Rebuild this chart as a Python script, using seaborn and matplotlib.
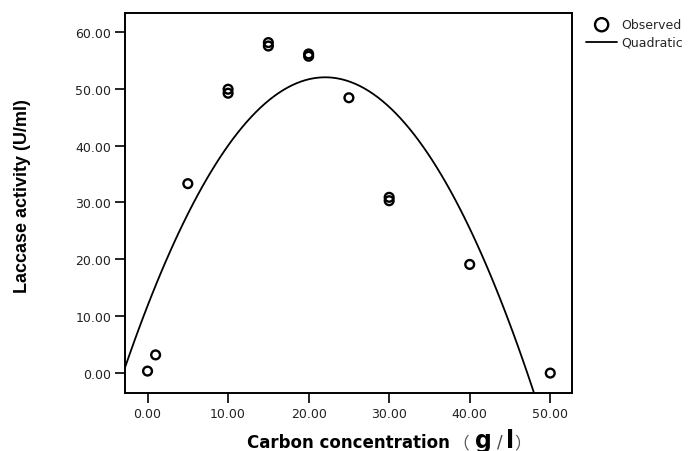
import numpy as np
import pandas as pd
import matplotlib
matplotlib.use("Agg")
import matplotlib.pyplot as plt
import seaborn as sns
from matplotlib.ticker import FormatStrFormatter, FixedLocator

# ---- data ----
concentration = [0, 1, 5, 10, 10, 15, 15, 20, 20, 25, 30, 30, 40, 50]
activity = [0.35, 3.2, 33.3, 49.2, 49.9, 57.5, 58.1, 55.7, 56.1, 48.4, 30.3, 30.9, 19.1, 0.0]
x_ticks = [0, 10, 20, 30, 40, 50]
y_ticks = [0, 10, 20, 30, 40, 50, 60]

sns.set_theme(style="ticks")
plt.rcParams["font.family"] = ["DejaVu Sans", "Noto Sans CJK SC"]

df = pd.DataFrame({"conc": concentration, "act": activity})

W, H = 690, 452
fig = plt.figure(figsize=(W / 100, H / 100), dpi=100)
ax = fig.add_axes([125 / W, 1 - 394 / H, 447 / W, 380 / H])
ax.set_xlim(-2.8, 52.7)
ax.set_ylim(-3.5, 63.3)

sns.regplot(
    data=df, x="conc", y="act", order=2, ci=None, truncate=False, ax=ax,
    color="black", label="Observed",
    scatter_kws=dict(s=40, facecolors="none", edgecolors="black",
                     linewidths=1.7, alpha=1),
    line_kws=dict(color="black", lw=1.3, label="Quadratic"),
)

ax.xaxis.set_major_locator(FixedLocator(x_ticks))
ax.yaxis.set_major_locator(FixedLocator(y_ticks))
ax.xaxis.set_major_formatter(FormatStrFormatter("%.2f"))
ax.yaxis.set_major_formatter(FormatStrFormatter("%.2f"))
ax.tick_params(direction="out", length=7, width=1.2, labelsize=9, pad=3,
               color="black", labelcolor="#222222")
for s in ax.spines.values():
    s.set_visible(True)
    s.set_linewidth(1.4)
    s.set_color("black")

# axis titles
ax.set_xlabel("Carbon concentration", fontsize=12, fontweight="bold",
              va="baseline", color="black")
ax.xaxis.set_label_coords(0.5, -(448 - 394) / 380)
base = 1 - 448 / H
fig.text(452 / W, base, "（", fontsize=12, family=["Noto Sans CJK SC"],
         color="#555555", va="baseline")
fig.text(475 / W, base, "g", fontsize=17, fontweight="bold", va="baseline", color="black")
fig.text(497 / W, base, "/", fontsize=12, va="baseline", color="#444444")
fig.text(506 / W, base, "l", fontsize=17, fontweight="bold", va="baseline", color="black")
fig.text(514 / W, base, "）", fontsize=12, family=["Noto Sans CJK SC"],
         color="#555555", va="baseline")

ax.set_ylabel("Laccase activity (U/ml)", fontsize=13, fontweight="bold",
              family=["Liberation Sans Narrow", "Liberation Sans", "DejaVu Sans"],
              va="center", ha="center", color="black")
ax.yaxis.set_label_coords((23 - 125) / 447, 1 - (196.5 - 14) / 380)

handles, labels = ax.get_legend_handles_labels()
ax.legend(handles, labels, loc="upper left", bbox_to_anchor=(586 / W, 1 - 19 / H),
          bbox_transform=fig.transFigure, frameon=False, fontsize=9,
          borderaxespad=0, borderpad=0, handlelength=2.5, handletextpad=0.3,
          labelspacing=0.4, markerscale=1.5, scatterpoints=1)

fig.savefig("out.png", dpi=100)
